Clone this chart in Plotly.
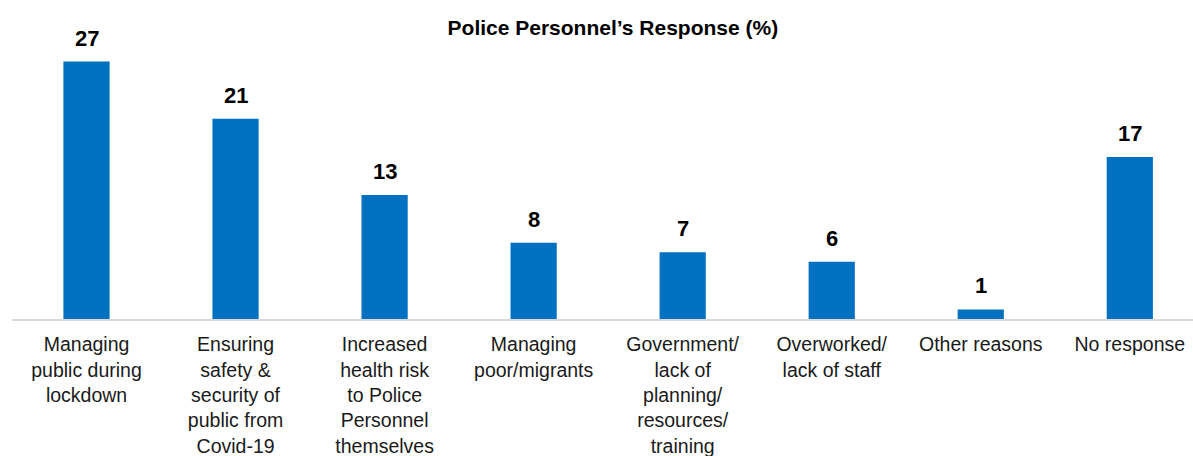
import plotly.graph_objects as go

# Survey categories (each entry is one line of the wrapped axis label)
categories = [
    ["Managing", "public during", "lockdown"],
    ["Ensuring", "safety &", "security of", "public from", "Covid-19"],
    ["Increased", "health risk", "to Police", "Personnel", "themselves"],
    ["Managing", "poor/migrants"],
    ["Government/", "lack of", "planning/", "resources/", "training"],
    ["Overworked/", "lack of staff"],
    ["Other reasons"],
    ["No response"],
]
responses = [27, 21, 13, 8, 7, 6, 1, 17]
title_text = "Police Personnel\u2019s Response (%)"

positions = list(range(len(responses)))
tick_text = ["<br>".join(lines) for lines in categories]

BLUE = "#0070C0"
FONT = "Liberation Sans, Arial, sans-serif"

fig = go.Figure()
fig.add_trace(go.Bar(
    x=positions,
    y=responses,
    width=0.31,
    marker=dict(color=BLUE, line=dict(width=0)),
    hoverinfo="skip",
))

# Value labels above each bar
for xi, v in zip(positions, responses):
    fig.add_annotation(
        x=xi, y=v, xref="x", yref="y",
        text=f"<b>{v}</b>",
        showarrow=False,
        yanchor="bottom",
        yshift=9,
        font=dict(family=FONT, size=22, color="#000000"),
    )

fig.update_layout(
    width=1193,
    height=456,
    margin=dict(l=11.5, r=0, t=33, b=137, autoexpand=False),
    paper_bgcolor="white",
    plot_bgcolor="white",
    showlegend=False,
    title=dict(
        text=f"<b>{title_text}</b>",
        x=607 / 1193, xanchor="center", xref="paper",
        y=1 - 28 / 456, yanchor="middle", yref="container",
        font=dict(family=FONT, size=21, color="#000000"),
    ),
    xaxis=dict(
        tickmode="array",
        tickvals=positions,
        ticktext=tick_text,
        range=[-0.5, 7.424],
        automargin=False,
        showline=True,
        linecolor="#D9D9D9",
        linewidth=1.5,
        ticks="",
        ticklabelstandoff=7,
        showgrid=False,
        zeroline=False,
        tickfont=dict(family=FONT, size=19.5, color="#1a1a1a"),
        fixedrange=True,
    ),
    yaxis=dict(
        range=[0, 30],
        visible=False,
        automargin=False,
        showgrid=False,
        zeroline=False,
        fixedrange=True,
    ),
)

fig.write_html("out.html")
